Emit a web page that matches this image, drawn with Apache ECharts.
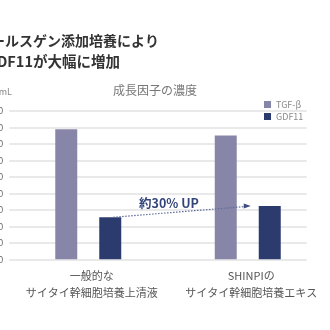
<!DOCTYPE html>
<html><head><meta charset="utf-8">
<script src="https://cdn.jsdelivr.net/npm/echarts@6/dist/echarts.min.js"></script>
<style>html,body{margin:0;padding:0;background:#fff}#c{width:330px;height:330px}</style>
</head><body><div id="c"></div>
<script>
const categories = ['一般的な\nサイタイ幹細胞培養上清液', 'SHINPIの\nサイタイ幹細胞培養エキス'];
const seriesNames = ['TGF-β', 'GDF11'];
const tgfValues = [78.9, 75.2];
const gdfValues = [25.5, 32.3];
const yTicks = { min: 0, max: 90, interval: 10 };
const titleLines = ['ールスゲン添加培養により', 'DF11が大幅に増加'];
const chartTitle = '成長因子の濃度';
const unitLabel = 'pg/mL';
const annotation = '約30% UP';

const FONT = '"Noto Sans CJK JP", "Noto Sans", sans-serif';
const chart = echarts.init(document.getElementById('c'), null, { renderer: 'canvas' });

const option = {
  animation: false,
  backgroundColor: '#ffffff',
  textStyle: { fontFamily: FONT },
  grid: [
    { left: 9.3, right: 23.3, top: 111, bottom: 70.7, containLabel: false, outerBoundsMode: 'none' },
    { left: 8.5, width: 319, top: 111, bottom: 70.7, containLabel: false, outerBoundsMode: 'none' }
  ],
  legend: {
    orient: 'vertical', left: 259, top: 95,
    itemWidth: 7, itemHeight: 7, itemGap: 3,
    icon: 'rect',
    textStyle: { color: '#8a8a8a', fontSize: 9, fontFamily: FONT },
    data: seriesNames
  },
  xAxis: [
    { type: 'category', gridIndex: 0, data: categories, show: false },
    { type: 'category', gridIndex: 1, data: categories,
      axisLine: { show: false }, axisTick: { show: false },
      axisLabel: { color: '#555', fontSize: 11, lineHeight: 17, margin: 8, fontFamily: FONT, interval: 0, padding: [0, 0, 0, 7] } }
  ],
  yAxis: [
    { type: 'value', gridIndex: 0, min: yTicks.min, max: yTicks.max, interval: yTicks.interval,
      axisLine: { show: false }, axisTick: { show: false },
      axisLabel: { color: '#666', fontSize: 9, margin: 6 },
      splitLine: { lineStyle: { color: '#e2e2e2', width: 1.5 } } },
    { type: 'value', gridIndex: 1, min: yTicks.min, max: yTicks.max, interval: yTicks.interval, show: false, splitLine: { show: false } }
  ],
  series: [
    { name: seriesNames[0], type: 'bar', xAxisIndex: 1, yAxisIndex: 1, data: tgfValues,
      barWidth: 22, barGap: '100%', itemStyle: { color: '#8886a8' } },
    { name: seriesNames[1], type: 'bar', xAxisIndex: 1, yAxisIndex: 1, data: gdfValues,
      barWidth: 22, barGap: '100%', itemStyle: { color: '#2c3b6e' } }
  ]
};
chart.setOption(option);

const p0 = chart.convertToPixel({ xAxisIndex: 1, yAxisIndex: 1 }, [0, gdfValues[0]]);
const p1 = chart.convertToPixel({ xAxisIndex: 1, yAxisIndex: 1 }, [1, gdfValues[1]]);
const x0 = p0[0] + 22 + 3, y0 = p0[1];
const x1 = p1[0] + 22 - 11 - 8, y1 = p1[1];
chart.setOption({
  graphic: [
    { type: 'text', x: -9, y: 41, style: { text: titleLines[0], font: 'bold 14px ' + FONT, fill: '#333', verticalAlign: 'middle' } },
    { type: 'text', x: -3, y: 61, style: { text: titleLines[1], font: 'bold 14.5px ' + FONT, fill: '#333', verticalAlign: 'middle' } },
    { type: 'text', x: 155, y: 90, style: { text: chartTitle, font: '12px ' + FONT, fill: '#777', align: 'center', verticalAlign: 'middle' } },
    { type: 'text', x: 12, y: 92, style: { text: unitLabel, font: '9px ' + FONT, fill: '#888', align: 'right', verticalAlign: 'middle' } },
    { type: 'line', shape: { x1: x0, y1: y0, x2: x1 - 6, y2: y1 + 0.5 },
      style: { stroke: '#5d6b9c', lineWidth: 1.2, lineDash: [1.5, 1.5] }, z: 100 },
    { type: 'polygon', shape: { points: [[x1 - 7, y1 - 2.5], [x1, y1], [x1 - 7, y1 + 2.5]] },
      style: { fill: '#3d4b7e' }, z: 100 },
    { type: 'text', x: 139, y: 203, style: { text: annotation, font: 'bold 12.5px ' + FONT, fill: '#34447a', verticalAlign: 'middle' }, z: 100 }
  ]
});
</script></body></html>
